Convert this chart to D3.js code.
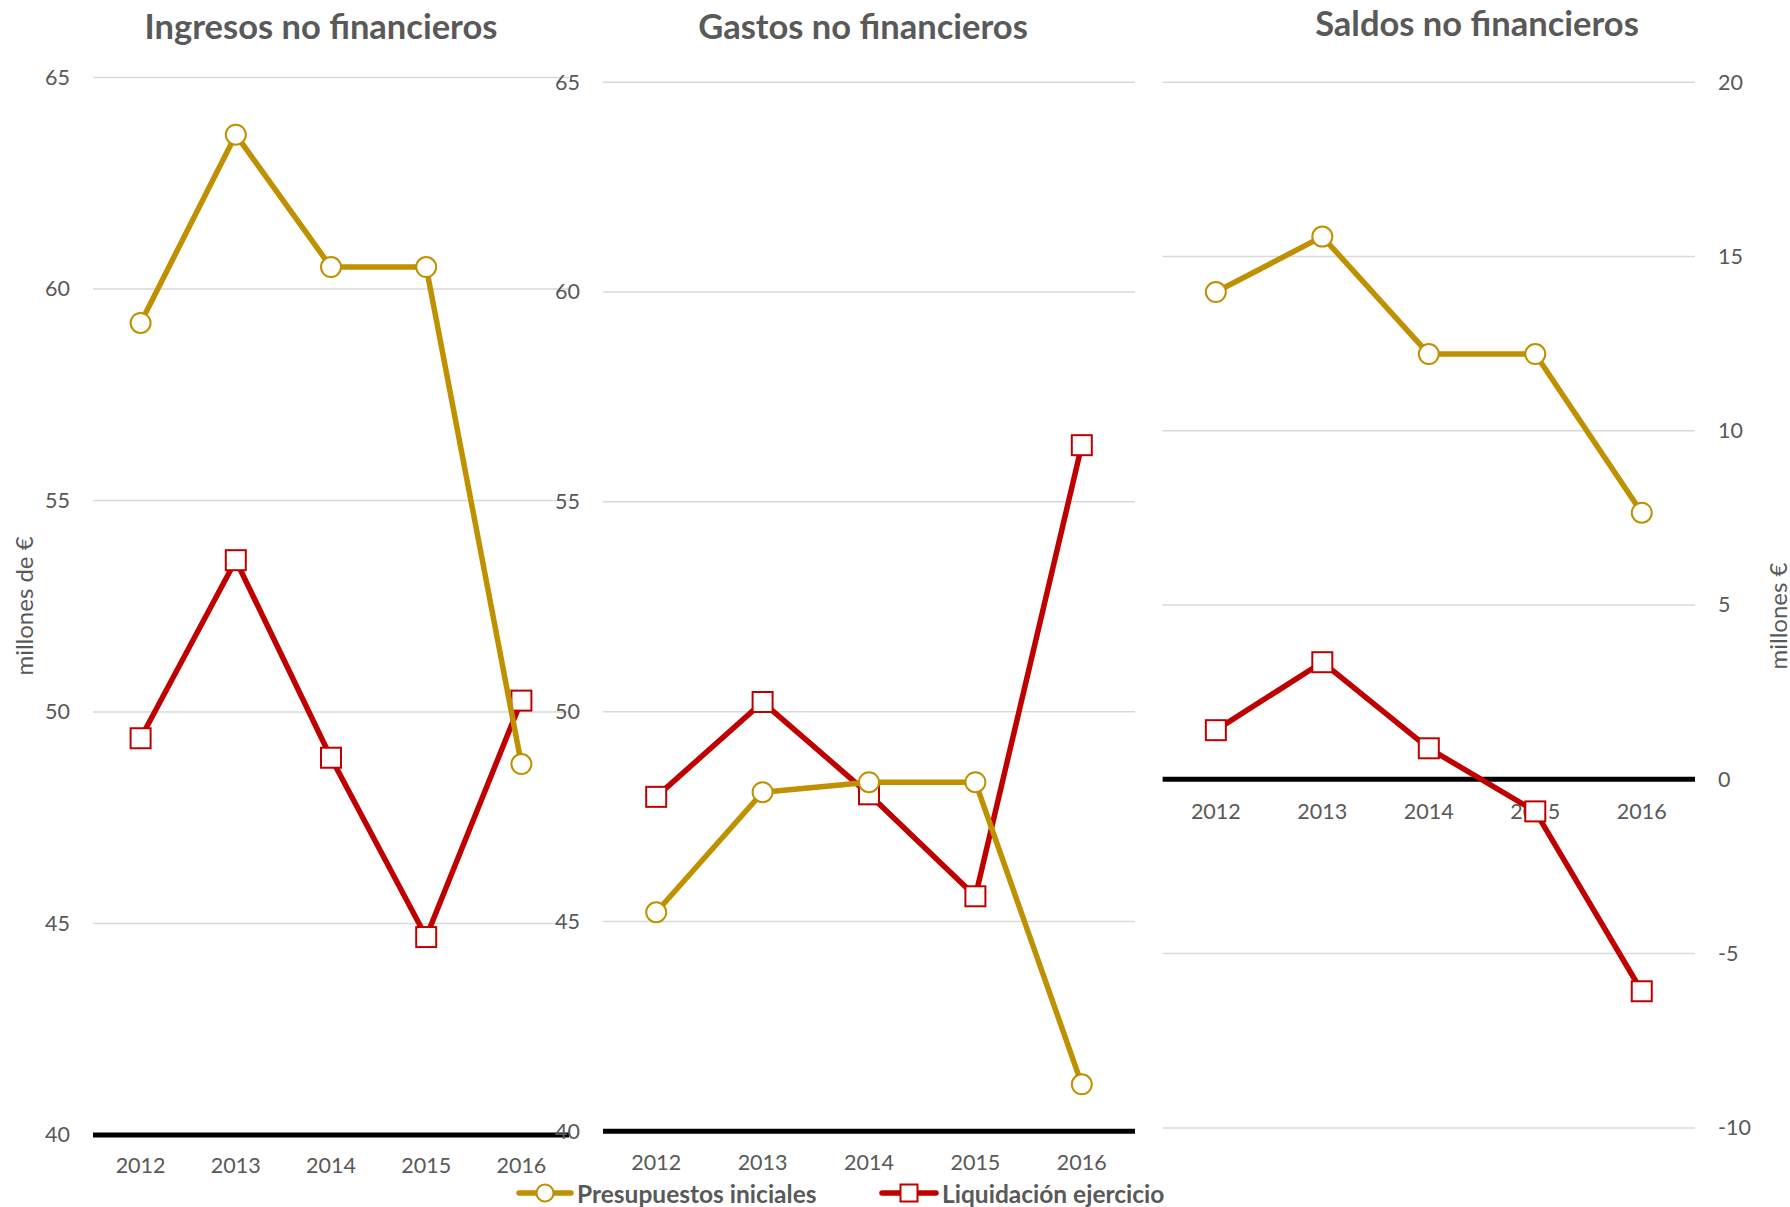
<!DOCTYPE html>
<html>
<head>
<meta charset="utf-8">
<script src="https://cdn.jsdelivr.net/npm/d3@7"></script>
<style>
  html, body { margin: 0; padding: 0; background: #fff; }
  svg { display: block; font-family: Lato, "Open Sans", sans-serif; }
</style>
</head>
<body>
<svg id="chart" width="1790" height="1207"></svg>
<script>
// ---------------- DATA ----------------
const years = ["2012", "2013", "2014", "2015", "2016"];
const seriesNames = ["Presupuestos iniciales", "Liquidación ejercicio"];
const panelTitles = ["Ingresos no financieros", "Gastos no financieros", "Saldos no financieros"];

const ingresosPresupuestos = [59.2, 63.65, 60.52, 60.52, 48.77];
const ingresosLiquidacion  = [49.38, 53.59, 48.92, 44.68, 50.27];
const gastosPresupuestos   = [45.22, 48.08, 48.32, 48.32, 41.12];
const gastosLiquidacion    = [47.97, 50.23, 48.03, 45.6, 56.35];
const saldosPresupuestos   = [13.98, 15.57, 12.2, 12.2, 7.65];
const saldosLiquidacion    = [1.41, 3.36, 0.89, -0.92, -6.08];

const ticksMillones = [40, 45, 50, 55, 60, 65];
const ticksSaldos   = [-10, -5, 0, 5, 10, 15, 20];
const axisTitleLeft  = "millones de €";
const axisTitleRight = "millones €";

// ---------------- STYLE ----------------
const GOLD = "#BF9000", RED = "#C00000", TEXT = "#595959", GRID = "#D9D9D9";

const svg = d3.select("#chart");

const panels = [
  { title: panelTitles[0], pres: ingresosPresupuestos, liq: ingresosLiquidacion,
    ticks: ticksMillones, domain: [40, 65], base: 40,
    x0: 93, x1: 569, yTop: 77.6, yBot: 1135, titleX: 321, titleY: 39,
    axisSide: "left", axisX: 70, yearY: 1165 },
  { title: panelTitles[1], pres: gastosPresupuestos, liq: gastosLiquidacion,
    ticks: ticksMillones, domain: [40, 65], base: 40,
    x0: 603, x1: 1135, yTop: 82.2, yBot: 1131.3, titleX: 863, titleY: 39,
    axisSide: "left", axisX: 580, yearY: 1162 },
  { title: panelTitles[2], pres: saldosPresupuestos, liq: saldosLiquidacion,
    ticks: ticksSaldos, domain: [-10, 20], base: 0,
    x0: 1162.6, x1: 1695, yTop: 82.2, yBot: 1127.9, titleX: 1477, titleY: 36,
    axisSide: "right", axisX: 1718, yearY: 811 }
];

const markerSize = 20;

panels.forEach(p => {
  const x = d3.scalePoint().domain(years).range([p.x0, p.x1]).padding(0.5);
  const y = d3.scaleLinear().domain(p.domain).range([p.yBot, p.yTop]);
  const g = svg.append("g");

  // gridlines
  g.selectAll("line.grid").data(p.ticks.filter(t => t !== p.base)).join("line")
    .attr("x1", p.x0).attr("x2", p.x1)
    .attr("y1", d => y(d)).attr("y2", d => y(d))
    .attr("stroke", GRID).attr("stroke-width", 1.5);

  // axis tick labels
  const axis = (p.axisSide === "left" ? d3.axisLeft(y) : d3.axisRight(y))
    .tickValues(p.ticks).tickSize(0).tickPadding(0).tickFormat(d => String(d));
  const ax = g.append("g").attr("transform", `translate(${p.axisX},0)`).call(axis);
  ax.select(".domain").remove();
  ax.selectAll("text").attr("fill", TEXT).attr("font-size", 21.5)
    .attr("font-family", "Lato, 'Open Sans', sans-serif");

  // baseline
  g.append("line")
    .attr("x1", p.x0).attr("x2", p.x1)
    .attr("y1", y(p.base)).attr("y2", y(p.base))
    .attr("stroke", "#000").attr("stroke-width", 5);

  // year labels
  g.selectAll("text.year").data(years).join("text")
    .attr("x", d => x(d)).attr("y", p.yearY)
    .attr("text-anchor", "middle").attr("dominant-baseline", "central")
    .attr("fill", TEXT).attr("font-size", 21.5).text(d => d);

  // title
  g.append("text").attr("x", p.titleX).attr("y", p.titleY)
    .attr("text-anchor", "middle").attr("fill", TEXT)
    .attr("font-size", 34.5).attr("font-weight", "bold").text(p.title);

  const line = d3.line().x((d, i) => x(years[i])).y(d => y(d));

  // series: red first, gold on top
  const drawSeries = (vals, color, shape) => {
    g.append("path").datum(vals).attr("d", line)
      .attr("fill", "none").attr("stroke", color).attr("stroke-width", 5.5)
      .attr("stroke-linejoin", "round");
    if (shape === "square") {
      g.selectAll(null).data(vals).join("rect")
        .attr("x", (d, i) => x(years[i]) - markerSize / 2)
        .attr("y", d => y(d) - markerSize / 2)
        .attr("width", markerSize).attr("height", markerSize)
        .attr("fill", "#fff").attr("stroke", color).attr("stroke-width", 2);
    } else {
      g.selectAll(null).data(vals).join("circle")
        .attr("cx", (d, i) => x(years[i])).attr("cy", d => y(d))
        .attr("r", markerSize / 2)
        .attr("fill", "#fff").attr("stroke", color).attr("stroke-width", 2);
    }
  };
  drawSeries(p.liq, RED, "square");
  drawSeries(p.pres, GOLD, "circle");
});

// axis titles
svg.append("text")
  .attr("transform", "translate(23,606) rotate(-90)")
  .attr("text-anchor", "middle").attr("dominant-baseline", "central")
  .attr("fill", TEXT).attr("font-size", 24).text(axisTitleLeft);
svg.append("text")
  .attr("transform", "translate(1777,616) rotate(-90)")
  .attr("text-anchor", "middle").attr("dominant-baseline", "central")
  .attr("fill", TEXT).attr("font-size", 24).text(axisTitleRight);

// legend
const legendItems = [
  { name: seriesNames[0], color: GOLD, shape: "circle", lx0: 519, lx1: 571, tx: 577 },
  { name: seriesNames[1], color: RED, shape: "square", lx0: 882, lx1: 936, tx: 942 }
];
const legendY = 1193;
const lg = svg.append("g");
legendItems.forEach(it => {
  lg.append("line").attr("x1", it.lx0).attr("x2", it.lx1)
    .attr("y1", legendY).attr("y2", legendY)
    .attr("stroke", it.color).attr("stroke-width", 5.5).attr("stroke-linecap", "round");
  const cx = (it.lx0 + it.lx1) / 2;
  if (it.shape === "circle") {
    lg.append("circle").attr("cx", cx).attr("cy", legendY).attr("r", 8.5)
      .attr("fill", "#fff").attr("stroke", it.color).attr("stroke-width", 2);
  } else {
    lg.append("rect").attr("x", cx - 8.5).attr("y", legendY - 8.5)
      .attr("width", 17).attr("height", 17)
      .attr("fill", "#fff").attr("stroke", it.color).attr("stroke-width", 2);
  }
  lg.append("text").attr("x", it.tx).attr("y", legendY)
    .attr("dominant-baseline", "central").attr("fill", TEXT)
    .attr("font-size", 24.5).attr("font-weight", "bold").text(it.name);
});
</script>
</body>
</html>
